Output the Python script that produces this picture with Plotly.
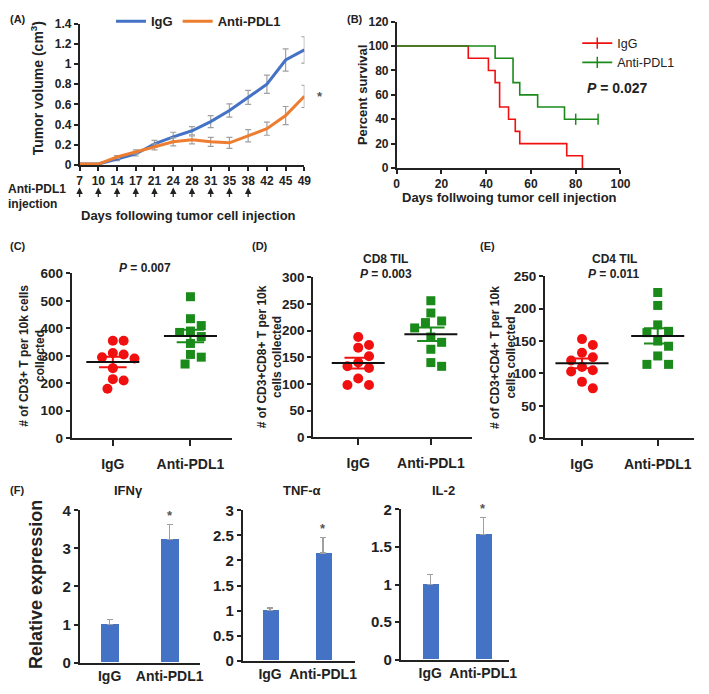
import plotly.graph_objects as go
import numpy as np

# ---------------- data ----------------
days = [7, 10, 14, 17, 21, 24, 28, 31, 35, 38, 42, 45, 49]
injection_days = [7, 10, 14, 17, 21, 24, 28, 31, 35, 38]
igg_vol = [0.01, 0.01, 0.06, 0.11, 0.21, 0.28, 0.34, 0.43, 0.54, 0.67, 0.80, 1.04, 1.14]
igg_vol_err = [0.005, 0.005, 0.015, 0.02, 0.035, 0.045, 0.04, 0.06, 0.065, 0.07, 0.09, 0.11, 0.13]
anti_vol = [0.01, 0.01, 0.08, 0.13, 0.18, 0.23, 0.25, 0.23, 0.22, 0.29, 0.36, 0.49, 0.68]
anti_vol_err = [0.005, 0.005, 0.015, 0.02, 0.03, 0.04, 0.04, 0.045, 0.055, 0.06, 0.065, 0.09, 0.11]

igg_surv_t = [0, 32, 41, 44, 46, 50, 53, 55, 76, 83]
igg_surv = [100, 90, 80, 70, 50, 40, 30, 20, 10, 0]
anti_surv_t = [0, 44, 52, 55, 63, 75, 90]
anti_surv = [100, 90, 70, 60, 50, 40, 40]
anti_censor_t = [80, 90]
anti_censor = [40, 40]

groups = ["IgG", "Anti-PDL1"]
cd3_igg = [355, 355, 310, 305, 295, 290, 255, 215, 210, 180]
cd3_anti = [515, 435, 410, 390, 385, 370, 345, 305, 295, 270]
cd8_igg = [188, 173, 168, 152, 140, 133, 130, 110, 98, 98]
cd8_anti = [256, 233, 218, 215, 205, 188, 178, 165, 140, 133]
cd4_igg = [153, 144, 132, 125, 120, 110, 105, 103, 87, 77]
cd4_anti = [225, 205, 175, 165, 163, 150, 142, 127, 114, 114]

genes = ["IFNγ", "TNF-α", "IL-2"]
expr_igg = [1.0, 1.0, 1.0]
expr_igg_err = [0.13, 0.05, 0.13]
expr_anti = [3.23, 2.15, 1.67]
expr_anti_err = [0.40, 0.31, 0.22]

# ---------------- helpers ----------------
W, H = 709, 694
FONT = "Liberation Sans, Arial, sans-serif"
AX = "#222222"
BLUE = "#4472C4"
ORANGE = "#ED7D31"
RED = "#F01010"
GREEN = "#1A8A1A"
GREY = "#A0A0A0"


def px(x):
    return x / W


def py(y):
    return 1 - y / H


def bold(size, color=AX):
    return dict(family=FONT, size=size, color=color, weight="bold")


fig = go.Figure()
annotations = []


def ann(text, x, y, size=12, xanchor="center", yanchor="middle", angle=0, color=AX, **kw):
    annotations.append(dict(text=text, x=px(x), y=py(y), xref="paper", yref="paper",
                            showarrow=False, xanchor=xanchor, yanchor=yanchor,
                            textangle=angle, font=bold(size, color), **kw))


def axis_common(**kw):
    d = dict(showline=True, linecolor=AX, linewidth=1.5, showgrid=False, zeroline=False,
             ticks="outside", ticklen=4, tickcolor=AX, tickwidth=1.5)
    d.update(kw)
    return d


# ---------------- (A) tumor volume ----------------
xi = list(range(len(days)))
fig.add_trace(go.Scatter(x=xi, y=igg_vol, mode="lines", name="IgG",
                         line=dict(color=BLUE, width=3),
                         error_y=dict(type="data", array=igg_vol_err, color=GREY, thickness=1.2, width=3),
                         xaxis="x", yaxis="y", legend="legend", cliponaxis=False))
fig.add_trace(go.Scatter(x=xi, y=anti_vol, mode="lines", name="Anti-PDL1",
                         line=dict(color=ORANGE, width=3),
                         error_y=dict(type="data", array=anti_vol_err, color=GREY, thickness=1.2, width=3),
                         xaxis="x", yaxis="y", legend="legend", cliponaxis=False))
annotations.append(dict(text="*", x=xi[-1], y=anti_vol[-1], xref="x", yref="y", xshift=16,
                        showarrow=False, font=bold(13, "#555555")))
for d in injection_days:
    annotations.append(dict(text="", x=days.index(d), xref="x", y=py(183), yref="paper",
                            showarrow=True, arrowhead=2, arrowsize=1, arrowwidth=1.3,
                            arrowcolor=AX, ax=0, ay=11, axref="pixel", ayref="pixel"))
ann("(A)", 5, 10, 11, xanchor="left")
ann("Tumor volume (cm<sup>3</sup>)", 35, 81, 14, angle=-90)
ann("Anti-PDL1", 3, 185, 12, xanchor="left")
ann("injection", 3, 200, 12, xanchor="left")
ann("Days following tumor cell injection", 189, 212, 13)

# ---------------- (B) survival ----------------
fig.add_trace(go.Scatter(x=igg_surv_t, y=igg_surv, mode="lines", line=dict(color=RED, width=1.6, shape="hv"),
                         showlegend=False, xaxis="x2", yaxis="y2"))
fig.add_trace(go.Scatter(x=anti_surv_t, y=anti_surv, mode="lines", line=dict(color=GREEN, width=1.6, shape="hv"),
                         showlegend=False, xaxis="x2", yaxis="y2"))
fig.add_trace(go.Scatter(x=anti_censor_t, y=anti_censor, mode="markers",
                         marker=dict(symbol="line-ns", size=8, line=dict(color=GREEN, width=1.5)),
                         showlegend=False, xaxis="x2", yaxis="y2", cliponaxis=False))
fig.add_trace(go.Scatter(x=[None], y=[None], mode="lines+markers", name="IgG",
                         line=dict(color=RED, width=1.6),
                         marker=dict(symbol="line-ns", size=8, line=dict(color=RED, width=1.5)),
                         xaxis="x2", yaxis="y2", legend="legend2"))
fig.add_trace(go.Scatter(x=[None], y=[None], mode="lines+markers", name="Anti-PDL1",
                         line=dict(color=GREEN, width=1.6),
                         marker=dict(symbol="line-ns", size=8, line=dict(color=GREEN, width=1.5)),
                         xaxis="x2", yaxis="y2", legend="legend2"))
ann("(B)", 348, 10, 11, xanchor="left")
ann("Percent survival", 367, 88, 13, angle=-90)
ann("Days follwoing tumor cell injection", 516, 193, 13)
ann("<i>P</i> = 0.027", 626, 81, 14)


# ---------------- (C)(D)(E) scatter dot plots ----------------
def swarm(vals, xppu, yppu, dpx=10.5, step=5.5):
    order = sorted(range(len(vals)), key=lambda i: -vals[i])
    placed = []
    offs = [0.0] * len(vals)
    for i in order:
        yv = vals[i] * yppu
        cands = [0.0]
        for k in range(1, 12):
            cands += [k * step, -k * step]
        for c in cands:
            if all((c - ox) ** 2 + (yv - oy) ** 2 >= dpx ** 2 for ox, oy in placed):
                break
        placed.append((c, yv))
        offs[i] = c / xppu
    return offs


def dot_panel(n, igg, anti, xppu, yppu):
    xa, ya = f"x{n}", f"y{n}"
    for gi, (vals, col, sym) in enumerate([(igg, RED, "circle"), (anti, GREEN, "square")]):
        offs = swarm(vals, xppu, yppu)
        fig.add_trace(go.Scatter(x=[gi + o for o in offs], y=vals, mode="markers",
                                 marker=dict(symbol=sym, size=9 if sym == "square" else 10, color=col,
                                             line=dict(width=0)),
                                 showlegend=False, xaxis=xa, yaxis=ya, cliponaxis=False))
        m = float(np.mean(vals))
        se = float(np.std(vals, ddof=1) / np.sqrt(len(vals)))
        hw_sem = 14 / xppu
        hw_mean = 27 / xppu
        fig.add_trace(go.Scatter(x=[gi - hw_sem, gi + hw_sem, None, gi - hw_sem, gi + hw_sem, None, gi, gi],
                                 y=[m + se, m + se, None, m - se, m - se, None, m - se, m + se],
                                 mode="lines", line=dict(color=col, width=2),
                                 showlegend=False, xaxis=xa, yaxis=ya))
        fig.add_trace(go.Scatter(x=[gi - hw_mean, gi + hw_mean], y=[m, m], mode="lines",
                                 line=dict(color="#111111", width=2),
                                 showlegend=False, xaxis=xa, yaxis=ya))


dot_panel(3, cd3_igg, cd3_anti, 79, 170 / 600)
dot_panel(4, cd8_igg, cd8_anti, 74, 164 / 300)
dot_panel(5, cd4_igg, cd4_anti, 77, 166 / 250)

ann("(C)", 5, 243, 11, xanchor="left")
ann("(D)", 252, 243, 11, xanchor="left")
ann("(E)", 484, 243, 11, xanchor="left")
ann("<i>P</i> = 0.007", 145, 266, 12)
ann("CD8 TIL", 390, 256, 12)
ann("<i>P</i> = 0.003", 390, 272, 12)
ann("CD4 TIL", 623, 256, 12)
ann("<i>P</i> = 0.011", 622, 272, 12)
ann("# of CD3+ T per 10k cells<br>collected", 30, 355, 12, angle=-90)
ann("# of CD3+CD8+ T per 10k<br>cells collected", 272, 357, 12, angle=-90)
ann("# of CD3+CD4+ T per 10k<br>cells collected", 510, 357, 12, angle=-90)

# ---------------- (F) bar charts ----------------
gx = list(range(len(groups)))
for k, g in enumerate(genes):
    n = 6 + k
    xa, ya = f"x{n}", f"y{n}"
    fig.add_trace(go.Bar(x=gx, y=[expr_igg[k], expr_anti[k]], width=0.3, marker=dict(color=BLUE, line=dict(width=0)),
                         error_y=dict(type="data", symmetric=False, array=[expr_igg_err[k], expr_anti_err[k]],
                                      arrayminus=[0, 0], color=GREY, thickness=1.2, width=3),
                         showlegend=False, xaxis=xa, yaxis=ya))
    annotations.append(dict(text="*", x=1, y=expr_anti[k] + expr_anti_err[k], xref=xa, yref=ya,
                            yshift=9, showarrow=False, font=bold(13, "#555555")))
ann("(F)", 5, 493, 11, xanchor="left")
ann("IFNγ", 128, 494, 13)
ann("TNF-α", 305, 494, 13)
ann("IL-2", 449, 494, 13)
ann("Relative expression", 33, 590, 18, angle=-90)

# ---------------- layout ----------------
layout = dict(
    width=W, height=H, margin=dict(l=0, r=0, t=0, b=0),
    paper_bgcolor="white", plot_bgcolor="white",
    font=dict(family=FONT, color=AX),
    annotations=annotations,
    bargap=0,
    legend=dict(orientation="h", x=px(110), y=1.004, xanchor="left", yanchor="top",
                font=bold(13), bgcolor="rgba(0,0,0,0)", itemwidth=30, tracegroupgap=0),
    legend2=dict(orientation="v", x=px(585), y=py(20), xanchor="left", yanchor="top",
                 font=dict(family=FONT, size=12.5, color=AX), bgcolor="rgba(0,0,0,0)", itemwidth=30),
)

layout["xaxis"] = axis_common(domain=[px(78), px(307)], range=[0, len(days) - 1], anchor="y",
                              tickvals=xi, ticktext=[str(d) for d in days], tickfont=bold(12))
layout["yaxis"] = axis_common(domain=[py(160), py(15)], range=[0, 1.4], dtick=0.2, anchor="x",
                              tickfont=bold(12))
layout["xaxis2"] = axis_common(domain=[px(401), px(629)], range=[0, 100], dtick=20, anchor="y2",
                               tickfont=bold(12))
layout["yaxis2"] = axis_common(domain=[py(163), py(13)], range=[0, 120], dtick=20, anchor="x2",
                               tickfont=bold(12))

dot_axes = {3: ([70, 233], [-0.53, 1.532], [440, 271], 600, 100),
            4: ([316, 478], [-0.62, 1.57], [439, 275], 300, 50),
            5: ([552, 704], [-0.49, 1.48], [440, 274], 250, 50)}
for n, (xd, xr, yd, ymax, dt) in dot_axes.items():
    layout[f"xaxis{n}"] = axis_common(domain=[px(xd[0]), px(xd[1])], range=xr, anchor=f"y{n}",
                                      tickvals=gx, ticktext=groups, tickfont=bold(14), linewidth=2,
                                      ticklen=6, ticklabelstandoff=6)
    layout[f"yaxis{n}"] = axis_common(domain=[py(yd[0]), py(yd[1])], range=[0, ymax], dtick=dt,
                                      anchor=f"x{n}", tickfont=bold(13.5), linewidth=2)

bar_axes = {6: ([78, 201], [-0.5, 1.51], [670, 514], 4, 1),
            7: ([244, 359], [-0.52, 1.61], [668, 514], 3, 0.5),
            8: ([405, 515], [-0.56, 1.48], [667, 513], 2, 0.5)}
for n, (xd, xr, yd, ymax, dt) in bar_axes.items():
    layout[f"xaxis{n}"] = axis_common(domain=[px(xd[0]), px(xd[1])], range=xr, anchor=f"y{n}",
                                      tickvals=gx, ticktext=groups, tickfont=bold(14), ticks="")
    layout[f"yaxis{n}"] = axis_common(domain=[py(yd[0]), py(yd[1])], range=[0, ymax], dtick=dt,
                                      anchor=f"x{n}", tickfont=bold(15))

fig.update_layout(**layout)
fig.write_html("out.html", config={"displayModeBar": False},
               post_script="document.body.style.margin='0';document.body.style.overflow='hidden';")
